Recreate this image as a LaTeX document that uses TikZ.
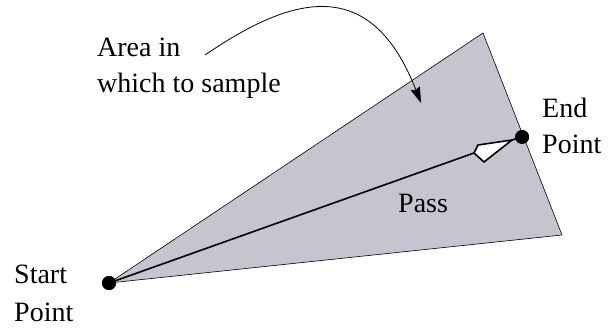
\documentclass[tikz,border=0pt]{standalone}
\usepackage{fontspec}
\setmainfont{Liberation Serif}
\newfontfamily\lserif{Liberation Serif}
\usetikzlibrary{arrows.meta}
\definecolor{areafill}{RGB}{199,196,208}
\begin{document}
\begin{tikzpicture}[x=1pt,y=-1pt,
  lbl/.style={anchor=north west,align=left,inner sep=0pt,font=\lserif\fontsize{28}{36}\selectfont},
  dot/.style={circle,fill=black,inner sep=0pt,minimum size=14pt}]
\useasboundingbox (0,0) rectangle (613,327);
% sample area
\coordinate (top) at (483,33);
\coordinate (br) at (562,235);
\node[dot] (start) at (109,283) {};
\node[dot] (end) at (522,137) {};
\fill[areafill] (start.center) -- (top) -- (br) -- cycle;
\draw[line width=0.6pt] (start.center) -- (top) -- (br) -- cycle;
\node[dot] at (start) {};
\node[dot] at (end) {};
% pass
\coordinate (hback) at (474,153);
\coordinate (htl) at (478,145);
\coordinate (htip) at (512,140);
\coordinate (hbot) at (484,162);
\draw[line width=1.6pt] (start.center) -- (hback);
\draw[line width=1.6pt,fill=white,line join=miter] (hback) -- (htl) -- (htip) -- (hbot) -- cycle;
\draw[line width=1.6pt] (htip) -- (end.center);
% labels
\node[lbl] (area) at (97,38) {Area in\\which to sample};
\node[lbl] (endlbl) at (542,98) {End\\Point};
\node[lbl] (startlbl) at (14,265) {Start\\[2pt]Point};
\node[lbl] (pass) at (398,193.5) {Pass};
% curved arrow
\coordinate (cstart) at (205,55);
\coordinate (ctip) at (421,103);
\draw[line width=0.8pt,-{Stealth[length=16pt,width=10pt,inset=2pt]}] (cstart) .. controls (290,-3) and (370,-28) .. (ctip);
\end{tikzpicture}
\end{document}
